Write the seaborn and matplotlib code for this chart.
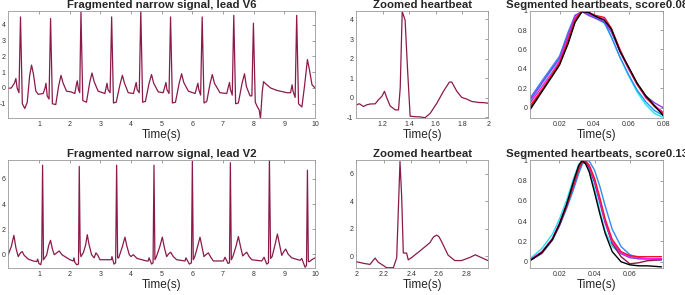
import numpy as np
import pandas as pd
import matplotlib
matplotlib.use("Agg")
import matplotlib.pyplot as plt
from matplotlib.ticker import FuncFormatter
import seaborn as sns

# ---- lead V6, full 10 s strip (time s, mV) ----
v6_t = [0.00, 0.10, 0.20, 0.25, 0.29, 0.35, 0.40, 0.46, 0.54, 0.62, 0.70, 0.76, 0.82, 0.90, 0.98,
        1.14, 1.20, 1.23, 1.27, 1.33, 1.38, 1.44, 1.55, 1.64, 1.72, 1.79, 1.90, 2.05,
        2.17, 2.22, 2.25, 2.29, 2.33, 2.37, 2.43, 2.55, 2.66, 2.73, 2.80, 2.93,
        3.15, 3.22, 3.25, 3.32, 3.37, 3.43, 3.52, 3.64, 3.72, 3.79, 3.91,
        4.08, 4.17, 4.20, 4.27, 4.32, 4.38, 4.47, 4.59, 4.67, 4.74, 4.89,
        5.05, 5.14, 5.17, 5.24, 5.29, 5.35, 5.45, 5.57, 5.65, 5.72, 5.87,
        6.09, 6.18, 6.21, 6.27, 6.32, 6.38, 6.47, 6.58, 6.65, 6.72, 6.90,
        7.12, 7.21, 7.24, 7.30, 7.35, 7.41, 7.50, 7.62, 7.70, 7.76, 7.88, 7.94,
        7.99, 8.05, 8.12, 8.18, 8.22, 8.28, 8.32, 8.40, 8.55, 8.75, 9.08,
        9.20, 9.25, 9.28, 9.35, 9.40, 9.46, 9.57, 9.66, 9.75, 9.82, 9.90, 10.00]
v6_v = [-0.02, 0.0, 0.3, 0.6, 0.0, -0.3, 4.5, -1.0, -1.3, -0.9, 0.8, 1.45, 0.9, -0.2, -0.4,
        -0.35, 0.0, 0.3, -0.5, -0.7, 4.4, -1.0, -1.05, 0.1, 0.8, 0.3, -0.2, -0.25,
        -0.35, 0.2, 0.45, -0.1, -0.3, 4.8, -0.8, -0.9, 0.4, 0.95, 0.4, -0.2,
        -0.35, 0.3, -0.1, -0.3, 4.5, -0.95, -0.9, 0.2, 0.8, 0.3, -0.3,
        -0.35, 0.35, -0.1, -0.3, 4.9, -0.9, -0.85, 0.3, 0.85, 0.3, -0.25,
        -0.3, 0.35, -0.1, -0.35, 4.5, -0.95, -0.9, 0.3, 0.9, 0.35, -0.2,
        -0.35, 0.3, -0.1, -0.45, 4.5, -0.95, -0.85, 0.3, 0.85, 0.3, -0.3,
        -0.35, 0.35, -0.1, -0.45, 4.6, -1.0, -0.95, 0.3, 0.9, 0.1, -0.5, -0.5,
        4.1, -0.9, -1.2, -1.4, -1.95, -0.2, 0.4, 0.25, 0.0, -0.15, -0.3,
        -0.3, 0.2, -0.2, -0.6, 4.6, -1.0, -1.2, 0.2, 1.8, 1.1, 0.2, 0.0]

# ---- lead V2, full 10 s strip ----
v2_t = [0.00, 0.10, 0.185, 0.25, 0.326, 0.40, 0.457, 0.52, 0.652, 0.815, 0.93, 0.96, 1.00, 1.06, 1.09,
        1.12, 1.15, 1.19, 1.25, 1.32, 1.38, 1.44, 1.50, 1.58, 1.663, 1.75, 1.848, 2.01, 2.12, 2.141,
        2.17, 2.228, 2.29, 2.315, 2.345, 2.37, 2.446, 2.52, 2.576, 2.63, 2.717, 2.80, 2.859, 2.92,
        2.989, 3.207, 3.36, 3.38, 3.446, 3.50, 3.533, 3.565, 3.60, 3.72, 3.804, 3.87, 3.946, 4.00,
        4.076, 4.20, 4.511, 4.56, 4.587, 4.674, 4.72, 4.75, 4.78, 4.83, 4.94, 5.022, 5.09, 5.163,
        5.22, 5.293, 5.38, 5.489, 5.761, 5.793, 5.902, 5.97, 6.00, 6.03, 6.08, 6.17, 6.25, 6.32,
        6.38, 6.44, 6.522, 6.60, 6.685, 7.011, 7.065, 7.163, 7.21, 7.239, 7.27, 7.32, 7.42, 7.50,
        7.57, 7.641, 7.70, 7.772, 7.85, 7.935, 8.261, 8.337, 8.424, 8.48, 8.511, 8.55, 8.60, 8.69,
        8.772, 8.84, 8.913, 8.98, 9.043, 9.12, 9.239, 9.511, 9.565, 9.674, 9.72, 9.75, 9.78, 9.815,
        9.891, 10.00]
v2_v = [-0.05, 0.6, 1.5, 0.5, -0.2, 0.1, 0.2, -0.1, -0.4, -0.55, -0.6, -0.4, -0.75, -0.85, -0.5,
        7.1, -0.45, -0.3, -0.1, 0.7, 1.1, 0.4, -0.05, 0.1, 0.25, -0.05, -0.2, -0.45, -0.55, -0.3,
        -0.65, -0.85, -0.8, 7.0, 0.2, -0.2, 0.1, 0.7, 1.55, 0.8, -0.05, -0.3, 0.1, -0.1,
        -0.45, -0.45, -0.45, -0.2, -0.8, -0.7, 7.1, -0.3, -0.3, 0.6, 1.35, 0.6, -0.05, -0.2,
        -0.05, -0.35, -0.55, -0.55, -0.3, -0.8, -0.7, 7.1, -0.45, -0.2, 0.6, 1.35, 0.5, -0.2,
        0.0, 0.15, -0.2, -0.45, -0.55, -0.3, -0.8, -0.7, 7.4, -0.45, -0.2, 0.6, 1.35, 0.5,
        -0.2, -0.05, 0.1, -0.25, -0.55, -0.55, -0.25, -0.75, -0.7, 7.3, -0.45, -0.2, 0.6, 1.4,
        0.6, -0.15, 0.0, 0.15, -0.2, -0.45, -0.55, -0.25, -0.8, -0.7, 7.6, -0.35, -0.2, 0.7,
        1.6, 0.8, -0.1, 0.2, 0.4, 0.0, -0.3, -0.5, -0.35, -1.05, -0.9, 6.7, -0.6, -0.6,
        -0.45, -0.3]

# ---- zoomed single beats ----
zoom6_t = [1.000, 1.025, 1.040, 1.055, 1.080, 1.106, 1.144, 1.169, 1.194, 1.214, 1.232, 1.257,
           1.295, 1.320, 1.333, 1.348, 1.370, 1.388, 1.408, 1.446, 1.484, 1.521, 1.559, 1.610,
           1.660, 1.705, 1.723, 1.761, 1.798, 1.836, 1.874, 1.924, 1.962, 2.000]
zoom6_v = [-0.36, -0.31, -0.38, -0.45, -0.36, -0.32, -0.31, -0.10, 0.07, 0.33, -0.02, -0.42,
           -0.62, -0.62, 0.5, 4.4, 3.96, 1.5, -0.94, -0.97, -0.98, -1.02, -0.80, -0.28,
           0.33, 0.80, 0.80, 0.33, 0.02, -0.07, -0.19, -0.24, -0.25, -0.28]
zoom2_t = [2.000, 2.053, 2.100, 2.137, 2.160, 2.200, 2.220, 2.270, 2.294, 2.318, 2.330, 2.342,
           2.366, 2.378, 2.400, 2.463, 2.535, 2.560, 2.583, 2.600, 2.619, 2.667, 2.716, 2.764,
           2.824, 2.865, 2.908, 2.957]
zoom2_v = [-0.38, -0.50, -0.58, -0.12, -0.42, -0.68, -0.82, -0.82, -0.10, 6.9, 4.4, 0.25,
           0.25, -0.25, -0.10, 0.40, 1.00, 1.40, 1.55, 1.45, 1.10, 0.10, -0.30, -0.30,
           -0.08, 0.12, -0.08, -0.30]

# ---- segmented, normalised heartbeats ----
beat_names = ["cyan", "blue", "purple", "darkred", "magenta", "red", "black"]
beat_colors = ["#19e6f0", "#2f8cf0", "#8a3cf0", "#8b1a4a", "#ff1ee6", "#f01428", "#000000"]

seg6_t = [0.003, 0.010, 0.016, 0.020, 0.025, 0.029, 0.033, 0.037, 0.041, 0.046, 0.050,
          0.055, 0.060, 0.065, 0.070, 0.075, 0.080]
seg6_v = {
    "cyan":    [0.06, 0.25, 0.40, 0.50, 0.74, 0.93, 0.99, 0.95, 0.92, 0.87, 0.73, 0.52, 0.33, 0.16, 0.03, -0.06, -0.10],
    "blue":    [0.10, 0.28, 0.43, 0.53, 0.78, 0.95, 0.99, 0.96, 0.93, 0.88, 0.73, 0.52, 0.34, 0.18, 0.06, -0.03, -0.08],
    "purple":  [0.08, 0.26, 0.41, 0.51, 0.75, 0.95, 0.99, 0.95, 0.92, 0.88, 0.78, 0.58, 0.40, 0.24, 0.12, 0.05, 0.00],
    "darkred": [0.00, 0.18, 0.34, 0.45, 0.68, 0.89, 0.99, 0.98, 0.94, 0.91, 0.81, 0.59, 0.41, 0.25, 0.12, 0.02, -0.05],
    "magenta": [0.05, 0.22, 0.37, 0.48, 0.72, 0.92, 1.00, 0.97, 0.94, 0.91, 0.80, 0.58, 0.40, 0.24, 0.10, 0.02, -0.05],
    "red":     [0.02, 0.19, 0.35, 0.46, 0.70, 0.91, 1.00, 0.98, 0.95, 0.93, 0.82, 0.60, 0.41, 0.24, 0.11, 0.01, -0.06],
    "black":   [-0.02, 0.17, 0.33, 0.44, 0.66, 0.88, 0.99, 0.98, 0.94, 0.90, 0.81, 0.58, 0.42, 0.25, 0.12, 0.02, -0.08],
}

seg2_t = [0.004, 0.010, 0.016, 0.020, 0.024, 0.028, 0.031, 0.033, 0.035, 0.037, 0.040,
          0.043, 0.046, 0.050, 0.055, 0.060, 0.065, 0.070, 0.078]
seg2_v = {
    "cyan":    [0.04, 0.13, 0.27, 0.42, 0.60, 0.82, 0.96, 0.99, 0.96, 0.90, 0.72, 0.50, 0.30, 0.15, 0.08, 0.05, 0.03, 0.02, 0.02],
    "blue":    [0.02, 0.08, 0.21, 0.35, 0.52, 0.71, 0.87, 0.96, 1.00, 0.99, 0.90, 0.74, 0.55, 0.32, 0.15, 0.07, 0.04, 0.03, 0.02],
    "purple":  [0.02, 0.09, 0.22, 0.37, 0.55, 0.76, 0.92, 0.98, 0.98, 0.92, 0.78, 0.58, 0.38, 0.19, 0.08, 0.04, 0.03, 0.03, 0.03],
    "darkred": [0.02, 0.09, 0.22, 0.36, 0.54, 0.75, 0.91, 0.98, 0.98, 0.93, 0.79, 0.60, 0.40, 0.18, 0.05, -0.02, -0.01, 0.01, 0.02],
    "magenta": [0.03, 0.10, 0.23, 0.38, 0.56, 0.77, 0.93, 0.99, 0.99, 0.94, 0.80, 0.60, 0.40, 0.20, 0.09, 0.05, 0.04, 0.03, 0.03],
    "red":     [0.02, 0.09, 0.22, 0.37, 0.55, 0.76, 0.92, 0.99, 0.99, 0.95, 0.82, 0.63, 0.42, 0.22, 0.10, 0.06, 0.05, 0.05, 0.05],
    "black":   [0.02, 0.09, 0.22, 0.37, 0.56, 0.79, 0.95, 1.00, 0.96, 0.88, 0.68, 0.47, 0.28, 0.10, 0.00, -0.03, -0.04, -0.04, -0.05],
}

SIG_COLOR = "#8b1a4a"

sns.set_theme(style="white")
plt.rcParams["font.family"] = ["Liberation Sans", "DejaVu Sans"]

fig = plt.figure(figsize=(6.85, 2.95), dpi=100)


def style(ax, title, xlim, ylim, xticks, yticks):
    ax.set_xlim(*xlim)
    ax.set_ylim(*ylim)
    ax.set_xticks(xticks)
    ax.set_yticks(yticks)
    fmt = FuncFormatter(lambda v, p: "%g" % round(v, 4))
    ax.xaxis.set_major_formatter(fmt)
    ax.yaxis.set_major_formatter(fmt)
    ax.tick_params(direction="in", length=2, width=0.5, top=True, right=True,
                   labelsize=5, color="#777777", labelcolor="#333333", pad=2)
    for s in ax.spines.values():
        s.set_color("#999999")
        s.set_linewidth(0.6)
    ax.set_title(title, fontsize=8.2, fontweight="bold", pad=2)
    ax.set_xlabel("Time(s)", fontsize=8.5, labelpad=1)
    ax.set_ylabel("")


def seg_frame(t, vals):
    rows = []
    for name in beat_names:
        for x, y in zip(t, vals[name]):
            rows.append((name, x, y))
    return pd.DataFrame(rows, columns=["beat", "t", "v"])


rows = [(0.599, v6_t, v6_v, zoom6_t, zoom6_v, seg6_t, seg6_v, "V6", "0.08"),
        (0.092, v2_t, v2_v, zoom2_t, zoom2_v, seg2_t, seg2_v, "V2", "0.13")]

for bottom, ft, fv, zt, zv, st, sv, lead, score in rows:
    ax1 = fig.add_axes([0.012, bottom, 0.448, 0.365])
    sns.lineplot(x=ft, y=fv, ax=ax1, color=SIG_COLOR, linewidth=0.9, sort=False, estimator=None)
    ax2 = fig.add_axes([0.520, bottom, 0.193, 0.365])
    sns.lineplot(x=zt, y=zv, ax=ax2, color=SIG_COLOR, linewidth=0.9, sort=False, estimator=None)
    ax3 = fig.add_axes([0.774, bottom, 0.194, 0.365])
    sns.lineplot(data=seg_frame(st, sv), x="t", y="v", hue="beat", hue_order=beat_names,
                 palette=beat_colors, ax=ax3, linewidth=1.0, sort=False, estimator=None, legend=False)

    if lead == "V6":
        style(ax1, "Fragmented narrow signal, lead V6", (0, 10), (-1.92, 4.9),
              range(1, 11), [-1, 0, 1, 2, 3, 4])
        style(ax2, "Zoomed heartbeat", (1.0, 2.0), (-1.05, 4.45),
              [1.2, 1.4, 1.6, 1.8, 2.0], [-1, 0, 1, 2, 3, 4])
        style(ax3, "Segmented heartbeats, score" + score, (0.003, 0.080), (-0.11, 1.0),
              [0.02, 0.04, 0.06, 0.08], [0, 0.2, 0.4, 0.6, 0.8, 1.0])
    else:
        style(ax1, "Fragmented narrow signal, lead V2", (0, 10), (-1.1, 7.5),
              range(1, 11), [0, 2, 4, 6])
        style(ax2, "Zoomed heartbeat", (2.0, 2.96), (-0.83, 7.0),
              [2.0, 2.2, 2.4, 2.6, 2.8], [0, 2, 4, 6])
        style(ax3, "Segmented heartbeats, score" + score, (0.0034, 0.0789), (-0.06, 1.0),
              [0.02, 0.04, 0.06], [0, 0.2, 0.4, 0.6, 0.8, 1.0])

fig.savefig("out.png", dpi=100)
